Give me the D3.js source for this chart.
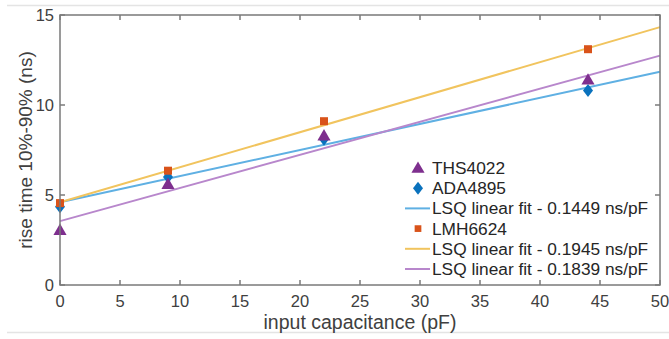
<!DOCTYPE html>
<html>
<head>
<meta charset="utf-8">
<script src="https://cdn.jsdelivr.net/npm/d3@7"></script>
<style>
  body { margin: 0; background: #fff; }
  svg { display: block; font-family: "Liberation Sans", Arial, sans-serif; }
</style>
</head>
<body>
<svg id="chart" width="669" height="339"></svg>
<script>
// ---- data ----
const capacitance = [0, 9, 22, 44];
const ths4022 = [3.05, 5.6, 8.3, 11.4];
const ada4895 = [4.35, 6.0, 8.1, 10.8];
const lmh6624 = [4.55, 6.35, 9.1, 13.1];
const fitSlopes = [0.1449, 0.1945, 0.1839];      // blue (ADA), yellow (LMH), purple (THS)
const fitIntercepts = [4.6, 4.6, 3.55];
const fitRange = [0, 50];
const xTicks = [0, 5, 10, 15, 20, 25, 30, 35, 40, 45, 50];
const yTicks = [0, 5, 10, 15];
const legendLabels = ["THS4022", "ADA4895", "LSQ linear fit - 0.1449 ns/pF", "LMH6624",
                      "LSQ linear fit - 0.1945 ns/pF", "LSQ linear fit - 0.1839 ns/pF"];

const svg = d3.select("#chart");
const W = 669, H = 339;
const m = { left: 60, right: 9, top: 15, bottom: 54 };
const x = d3.scaleLinear().domain([0, 50]).range([m.left, W - m.right]);
const y = d3.scaleLinear().domain([0, 15]).range([H - m.bottom, m.top]);

const axisColor = "#7a7a7a", textColor = "#404040";
const cBlueM = "#0a72bd", cOrangeM = "#d9531a", cPurpleM = "#7e2f8e";
const cBlueL = "#5fb0e3", cYellowL = "#f1c45e", cPurpleL = "#b887cc";

// outer frame lines (screenshot border)
svg.append("line").attr("x1", 7).attr("x2", W).attr("y1", 5.5).attr("y2", 5.5).attr("stroke", "#e4e4e4").attr("stroke-width", 1.5);
svg.append("line").attr("x1", 7).attr("x2", W).attr("y1", 332.5).attr("y2", 332.5).attr("stroke", "#e4e4e4").attr("stroke-width", 1.5);

// fit lines
const fitColors = [cBlueL, cYellowL, cPurpleL];
const plot = svg.append("g");
fitSlopes.forEach((s, i) => {
  const pts = fitRange.map(c => [x(c), y(fitIntercepts[i] + s * c)]);
  plot.append("path").attr("d", d3.line()(pts)).attr("fill", "none")
    .attr("stroke", fitColors[i]).attr("stroke-width", 2);
});

// marker symbols
const tri = d3.symbol().type(d3.symbolTriangle).size(75);
const dia = "M0,-6.5L5,0L0,6.5L-5,0Z";
const sq = d3.symbol().type(d3.symbolSquare).size(64);

plot.selectAll(".ada").data(capacitance).enter().append("path")
  .attr("d", dia).attr("fill", cBlueM)
  .attr("transform", (d, i) => `translate(${x(d)},${y(ada4895[i])})`);
plot.selectAll(".ths").data(capacitance).enter().append("path")
  .attr("d", tri).attr("fill", cPurpleM)
  .attr("transform", (d, i) => `translate(${x(d)},${y(ths4022[i]) + 1})`);
plot.selectAll(".lmh").data(capacitance).enter().append("path")
  .attr("d", sq).attr("fill", cOrangeM)
  .attr("transform", (d, i) => `translate(${x(d)},${y(lmh6624[i])})`);

// axes
const ax = svg.append("g").attr("stroke", axisColor).attr("stroke-width", 1.5).attr("fill", "none");
ax.append("rect").attr("x", x(0)).attr("y", y(15)).attr("width", x(50) - x(0)).attr("height", y(0) - y(15));
const tl = 5;
xTicks.forEach(t => {
  ax.append("line").attr("x1", x(t)).attr("x2", x(t)).attr("y1", y(0)).attr("y2", y(0) - tl);
  ax.append("line").attr("x1", x(t)).attr("x2", x(t)).attr("y1", y(15)).attr("y2", y(15) + tl);
});
yTicks.forEach(t => {
  ax.append("line").attr("x1", x(0)).attr("x2", x(0) + tl).attr("y1", y(t)).attr("y2", y(t));
  ax.append("line").attr("x1", x(50)).attr("x2", x(50) - tl).attr("y1", y(t)).attr("y2", y(t));
});

const txt = svg.append("g").attr("fill", textColor).style("font-size", "16.5px");
xTicks.forEach(t => {
  txt.append("text").attr("x", x(t)).attr("y", y(0) + 22).attr("text-anchor", "middle").text(t);
});
yTicks.forEach(t => {
  txt.append("text").attr("x", x(0) - 6).attr("y", y(t) + 6).attr("text-anchor", "end").text(t);
});
txt.append("text").attr("x", (x(0) + x(50)) / 2).attr("y", 329).attr("text-anchor", "middle")
  .style("font-size", "19.5px").text("input capacitance (pF)");
txt.append("text").attr("transform", `translate(32,${(y(0) + y(15)) / 2}) rotate(-90)`)
  .attr("text-anchor", "middle").style("font-size", "19px").text("rise time 10%-90% (ns)");

// legend
const lg = svg.append("g");
const lx = 418, ly0 = 168, ldy = 20.2;
const legendKinds = ["tri", "dia", "line", "sq", "line", "line"];
const legendColors = [cPurpleM, cBlueM, cBlueL, cOrangeM, cYellowL, cPurpleL];
legendLabels.forEach((lab, i) => {
  const yy = ly0 + i * ldy;
  const k = legendKinds[i];
  if (k === "line") {
    lg.append("line").attr("x1", 405).attr("x2", 430).attr("y1", yy).attr("y2", yy)
      .attr("stroke", legendColors[i]).attr("stroke-width", 2);
  } else {
    const sym = k === "tri" ? tri : (k === "dia" ? dia : d3.symbol().type(d3.symbolSquare).size(45));
    lg.append("path").attr("d", sym).attr("fill", legendColors[i])
      .attr("transform", `translate(${lx},${yy + (k === "tri" ? 1 : 0)})`);
  }
  lg.append("text").attr("x", 432).attr("y", yy + 6).attr("fill", "#262626")
    .style("font-size", "17.3px").text(lab);
});
</script>
</body>
</html>
